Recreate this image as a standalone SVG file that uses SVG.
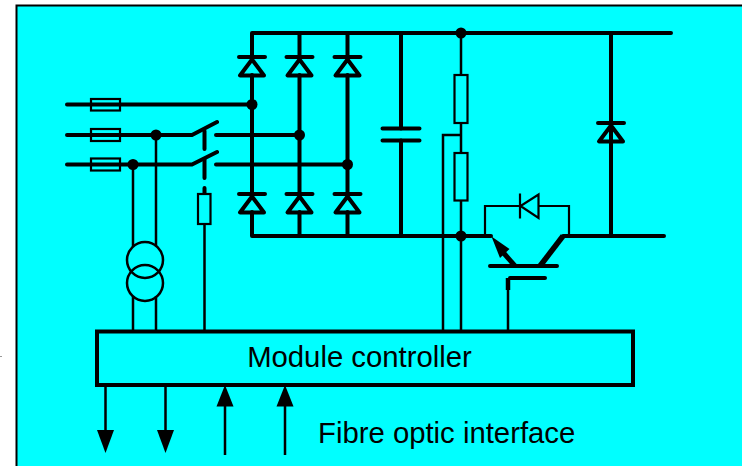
<svg xmlns="http://www.w3.org/2000/svg" width="742" height="466" viewBox="0 0 742 466">
<style>
.t{fill:none;stroke:#000;stroke-width:4;stroke-linecap:round;stroke-linejoin:round}
.m{fill:none;stroke:#000;stroke-width:2.500}
.f{fill:none;stroke:#000;stroke-width:2.200}
.s{fill:#000;stroke:none}
.l{font-family:"Liberation Sans",Arial,sans-serif;font-size:29.300px;fill:#000}
</style>
<defs>
<g id="diode"><path class="t" d="M-13 0H13M0 2.500L-12 18.500H12Z"/></g>
<polygon id="down" class="s" points="-8.500,0 8.500,0 0,23"/>
<polygon id="up" class="s" points="-8.500,21.500 8.500,21.500 0,0"/>
</defs>
<rect x="0" y="0" width="742" height="466" fill="#fff"/>
<rect x="16.500" y="5.500" width="740" height="480" fill="#00ffff" stroke="#000" stroke-width="2"/>
<rect x="0" y="356" width="2" height="1" fill="#999"/>
<g id="connectors">
<path class="t" d="M67 104.500H252M67 135H192L217 122M67 164.500H192L217 152M216 135H299.500M216 164.500H347.500"/>
<path class="t" d="M252 75V194M299.500 75V194M347.500 75V194"/>
<path class="t" d="M252 57V33H671M299.500 57V33M347.500 57V33M252 212V236H491M299.500 212V236M347.500 212V236"/>
<path class="t" d="M401 33V128.500M401 140.500V236M611 33V236M563 236H664"/>
<path class="t" d="M204.500 131V149M204.500 159V178M204.500 188V193"/>
<path class="m" d="M133 164.500V246.600M156 135V246.600M133 296V331M156 296V331M204.500 224V331"/>
<path class="m" d="M461 33V331M461 135H443V331M508 290V331"/>
<path class="f" d="M485 236V206H520M538 206H569V236"/>
<path class="m" d="M105.500 382V431M165.500 382V431M225 405V455M285 405V455"/>
</g>
<g id="fuses"><rect x="91" y="99" width="29" height="11.500" fill="none" stroke="#000" stroke-width="2.200"/><rect x="91" y="129" width="29" height="12" fill="none" stroke="#000" stroke-width="2.200"/><rect x="91" y="158.500" width="29" height="12" fill="none" stroke="#000" stroke-width="2.200"/></g>
<g id="junctions" class="s"><circle cx="252" cy="104.500" r="5.500"/><circle cx="299.500" cy="135" r="5.500"/><circle cx="347.500" cy="164.500" r="5.500"/><circle cx="156" cy="135" r="5.500"/><circle cx="133" cy="164.500" r="5.500"/><circle cx="461" cy="33" r="5.500"/><circle cx="461" cy="236" r="5.500"/></g>
<g id="rectifier-diodes">
<use href="#diode" x="252" y="57"/><use href="#diode" x="299.500" y="57"/><use href="#diode" x="347.500" y="57"/>
<use href="#diode" x="252" y="194"/><use href="#diode" x="299.500" y="194"/><use href="#diode" x="347.500" y="194"/>
</g>
<g id="freewheel-diode"><use href="#diode" x="611" y="123"/></g>
<g id="capacitor"><path class="t" d="M382.500 128.500H419.500M382.500 140.500H419.500"/></g>
<g id="resistors"><rect x="198" y="194" width="12.500" height="30" fill="#00ffff" stroke="#000" stroke-width="2.200"/><rect x="454.500" y="75" width="13" height="48" fill="#00ffff" stroke="#000" stroke-width="2.200"/><rect x="454.500" y="153" width="13" height="47.500" fill="#00ffff" stroke="#000" stroke-width="2.200"/></g>
<g id="transformer"><circle cx="145" cy="260" r="18" class="m"/><circle cx="145" cy="283" r="18" class="m"/></g>
<g id="igbt">
<path class="t" d="M490 266H557M510 278H545"/>
<path d="M508 290V278" fill="none" stroke="#000" stroke-width="4.500"/>
<path d="M515 266L501 250" fill="none" stroke="#000" stroke-width="5"/>
<polygon class="s" points="491.500,236.500 509.500,249 500,258"/>
<path d="M540 266L563 236" fill="none" stroke="#000" stroke-width="5.500"/>
<path class="f" d="M520 193.500V218.500M538.500 194.500V218L520.500 206Z"/>
</g>
<g id="module-controller"><rect x="97" y="331.500" width="536" height="53.500" fill="#00ffff" stroke="#000" stroke-width="4"/><text class="l" x="359.500" y="367" text-anchor="middle">Module controller</text></g>
<g id="arrows"><use href="#down" x="105.500" y="430"/><use href="#down" x="165.500" y="430"/><use href="#up" x="225" y="385"/><use href="#up" x="285" y="385"/></g>
<text class="l" x="318" y="443">Fibre optic interface</text>
</svg>
